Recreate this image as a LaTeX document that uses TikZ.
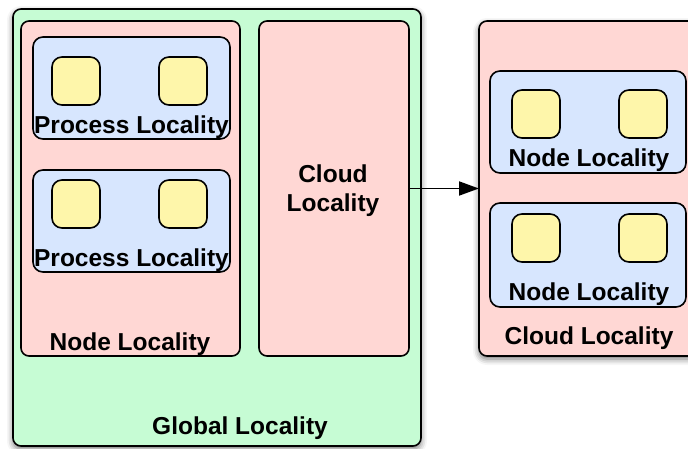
\documentclass[tikz,border=0pt]{standalone}
\usepackage{fontspec}
\setmainfont{Liberation Sans}
\usetikzlibrary{arrows.meta,shadows.blur}
\definecolor{globalgreen}{RGB}{198,252,212}
\definecolor{cloudpink}{RGB}{255,215,212}
\definecolor{nodeblue}{RGB}{215,230,254}
\definecolor{procyellow}{RGB}{254,246,170}
\tikzset{
  box/.style={rectangle, draw=black, line width=1.6pt, anchor=north west,
    inner sep=0pt, outer sep=0pt},
  globalbox/.style={box, fill=globalgreen, rounded corners=8pt},
  cloudbox/.style={box, fill=cloudpink, rounded corners=8pt},
  nodebox/.style={box, fill=nodeblue, rounded corners=10pt},
  procbox/.style={box, fill=procyellow, rounded corners=10pt,
    minimum width=48pt, minimum height=48pt},
  soft/.style={blur shadow={shadow xshift=0pt, shadow yshift=-3pt,
    shadow blur radius=6pt, shadow opacity=55}},
  lbl/.style={anchor=base, inner sep=0pt, font=\fontsize{24.5}{28}\selectfont\bfseries},
  link/.style={line width=1.8pt, -{Triangle[length=20pt,width=14pt]}}
}
\begin{document}
\begin{tikzpicture}[x=1pt,y=-1pt]
\useasboundingbox (0,0) rectangle (688,449);

% global locality container
\node[globalbox, soft, minimum width=408pt, minimum height=437pt] (global) at (13,9) {};
\node[lbl] (globaltxt) at (240,434) {Global Locality};

% node locality holding two process localities
\node[cloudbox, minimum width=219pt, minimum height=335pt] (nodeL) at (21,21) {};
\node[lbl] (nodeLtxt) at (130,350) {Node Locality};

\node[nodebox, minimum width=197pt, minimum height=102pt] (procA) at (33,37) {};
\node[procbox] (pa1) at (52,57) {};
\node[procbox] (pa2) at (159,57) {};
\node[lbl] (procAtxt) at (131.5,134) {Process Locality};

\node[nodebox, minimum width=197pt, minimum height=102pt] (procB) at (33,170) {};
\node[procbox] (pb1) at (52,180) {};
\node[procbox] (pb2) at (159,180) {};
\node[lbl] (procBtxt) at (131.5,266) {Process Locality};

% cloud locality inside the global one
\node[cloudbox, minimum width=150pt, minimum height=335pt] (cloudL) at (259,21) {};
\node[lbl] (cloudLa) at (333,183) {Cloud};
\node[lbl] (cloudLb) at (333,212) {Locality};

% expanded cloud locality
\node[cloudbox, soft, minimum width=220pt, minimum height=335pt] (cloudR) at (479,21) {};
\node[lbl] (cloudRtxt) at (589,344) {Cloud Locality};

\node[nodebox, minimum width=196pt, minimum height=102pt] (nodeA) at (490,71) {};
\node[procbox] (na1) at (512,90) {};
\node[procbox] (na2) at (619,90) {};
\node[lbl] (nodeAtxt) at (589,167) {Node Locality};

\node[nodebox, minimum width=196pt, minimum height=104pt] (nodeB) at (490,203) {};
\node[procbox] (nb1) at (512,214) {};
\node[procbox] (nb2) at (619,214) {};
\node[lbl] (nodeBtxt) at (589,300) {Node Locality};

\draw[link] (cloudL.east) -- (cloudR.west);
\end{tikzpicture}
\end{document}
